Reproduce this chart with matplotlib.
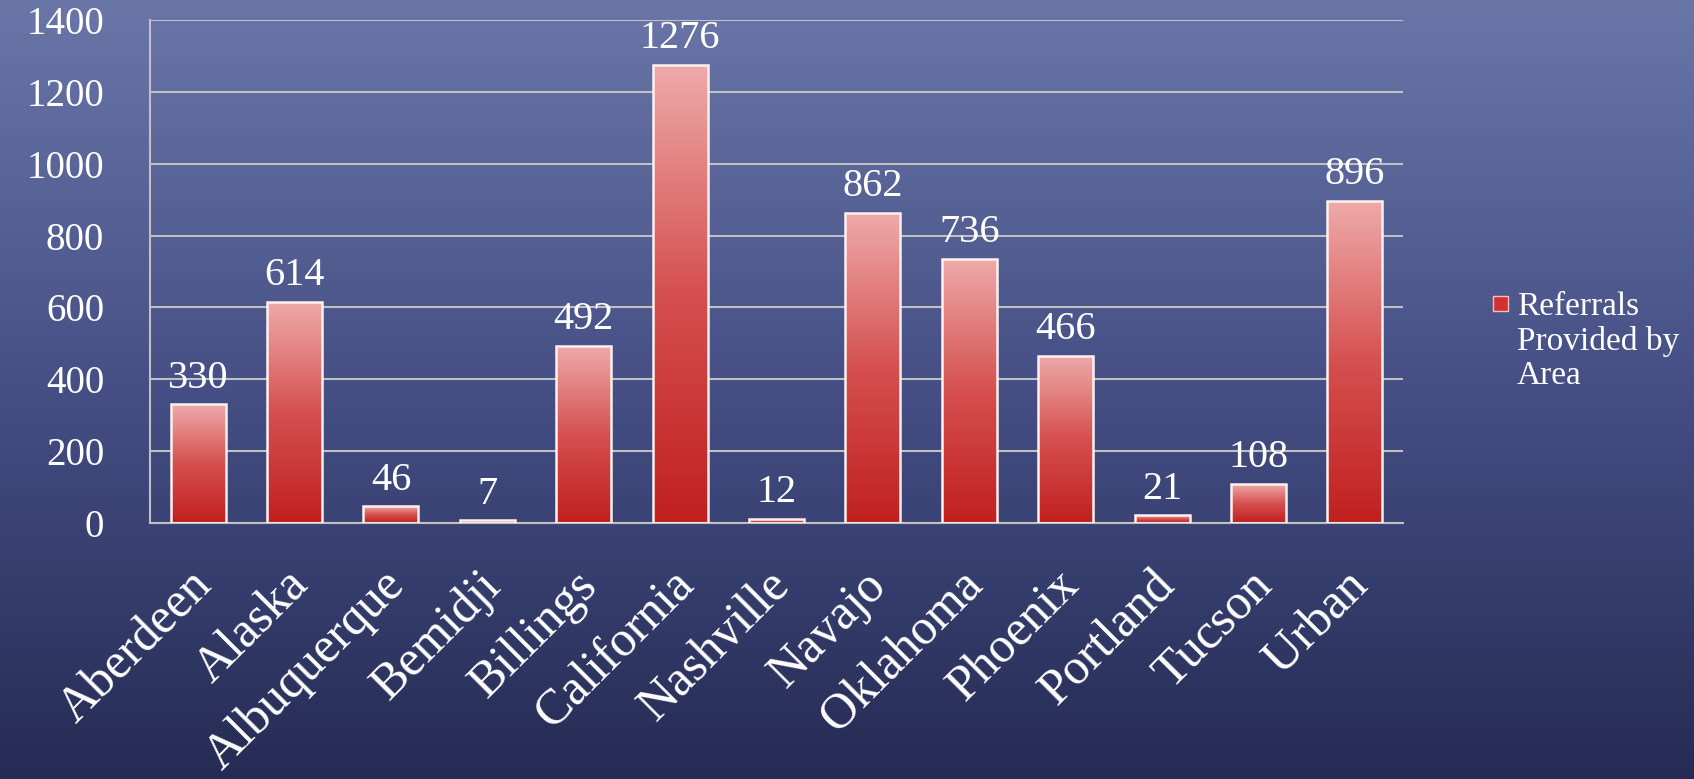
import numpy as np
import matplotlib
matplotlib.use("Agg")
import matplotlib.pyplot as plt
import matplotlib.transforms as mtransforms
from matplotlib.colors import LinearSegmentedColormap
from matplotlib.patches import Rectangle

areas = ["Aberdeen", "Alaska", "Albuquerque", "Bemidji", "Billings", "California",
         "Nashville", "Navajo", "Oklahoma", "Phoenix", "Portland", "Tucson", "Urban"]
referrals = [330, 614, 46, 7, 492, 1276, 12, 862, 736, 466, 21, 108, 896]
yticks = [0, 200, 400, 600, 800, 1000, 1200, 1400]
series_name = "Referrals\nProvided by\nArea"

plt.rcParams['font.family'] = ['Liberation Serif', 'DejaVu Serif']

fig = plt.figure(figsize=(16.94, 7.79), dpi=100)

# background gradient
bg = fig.add_axes([0, 0, 1, 1], zorder=0)
bg_cmap = LinearSegmentedColormap.from_list("bg", ["#252b53", "#454f85", "#6a76a8"])
grad = np.linspace(0, 1, 256).reshape(-1, 1)
bg.imshow(grad, cmap=bg_cmap, aspect='auto', origin='lower', extent=[0, 1, 0, 1])
bg.set_axis_off()

ax = fig.add_axes([150 / 1694, 1 - 523 / 779, (1403 - 150) / 1694, (523 - 20) / 779], zorder=1)
ax.patch.set_alpha(0)

bar_cmap = LinearSegmentedColormap.from_list("bar", ["#c0201f", "#d5504f", "#eeaaaa"])
x = np.arange(len(areas))
width = 0.57
bars = ax.bar(x, referrals, width=width, color='none', edgecolor='#fff0f0', linewidth=1.8, zorder=3)
for b in bars:
    x0, h = b.get_x(), b.get_height()
    im = ax.imshow(grad, cmap=bar_cmap, aspect='auto', origin='lower',
                   extent=[x0, x0 + b.get_width(), 0, h], zorder=2)
    im.set_clip_path(Rectangle((x0, 0), b.get_width(), h, transform=ax.transData))

for xi, v in zip(x, referrals):
    ax.text(xi, v + 22, str(v), ha='center', va='bottom', color='white', fontsize=29)

ax.set_xlim(-0.5, len(areas) - 0.5)
ax.set_ylim(0, 1400)
ax.set_yticks(yticks)
ax.set_yticklabels([str(t) for t in yticks], fontsize=28, color='white')
ax.set_xticks(x)
ax.set_xticklabels(areas, rotation=45, ha='right', rotation_mode='anchor',
                   fontsize=36, color='white')
ax.tick_params(axis='x', length=0, pad=28)
ax.tick_params(axis='y', length=0, pad=33)
# nudge the slanted labels a little to the left
shift = mtransforms.ScaledTranslation(-10 / 100, 0, fig.dpi_scale_trans)
for lbl in ax.get_xticklabels():
    lbl.set_transform(lbl.get_transform() + shift)
ax.grid(axis='y', color='#c0c0c0', linewidth=1.5, zorder=1)
ax.set_axisbelow(True)
for side in ['top', 'right']:
    ax.spines[side].set_visible(False)
for side in ['left', 'bottom']:
    ax.spines[side].set_color('#c0c0c0')
    ax.spines[side].set_linewidth(1.5)

# legend
fig.patches.append(Rectangle((1493 / 1694, 1 - 311 / 779), 15 / 1694, 15 / 779,
                             transform=fig.transFigure, facecolor='#d0302f',
                             edgecolor='#f0c0c0', linewidth=1, zorder=5))
fig.text(1517 / 1694, 1 - 341 / 779, series_name, color='white', fontsize=24,
         ha='left', va='center', linespacing=1.15, zorder=5)

fig.savefig("out.png", dpi=100)
